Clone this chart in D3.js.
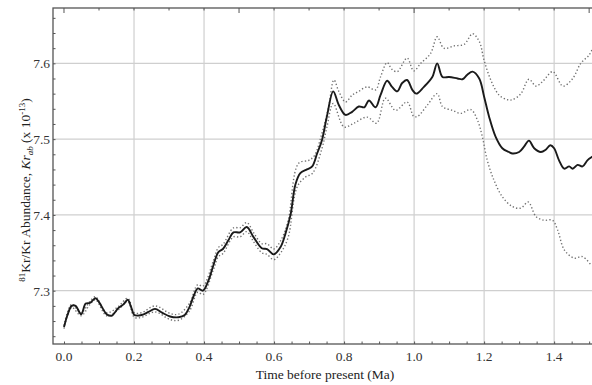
<!DOCTYPE html>
<html>
<head>
<meta charset="utf-8">
<script src="https://cdn.jsdelivr.net/npm/d3@7"></script>
<style>
  html, body { margin: 0; padding: 0; background: #fff; }
  svg { display: block; }
</style>
</head>
<body>
<svg id="chart" width="592" height="385"></svg>
<script>
// ---- Data ----
const timeMain = [0.000,0.010,0.022,0.033,0.049,0.062,0.074,0.090,0.100,0.122,0.136,0.155,0.170,0.182,0.192,0.201,0.222,0.241,0.260,0.280,0.303,0.327,0.345,0.358,0.372,0.382,0.397,0.413,0.427,0.441,0.454,0.470,0.484,0.503,0.522,0.541,0.565,0.580,0.599,0.619,0.633,0.647,0.661,0.675,0.694,0.709,0.723,0.737,0.751,0.769,0.785,0.804,0.823,0.842,0.858,0.871,0.890,0.904,0.923,0.937,0.952,0.966,0.980,0.995,1.006,1.028,1.052,1.066,1.081,1.100,1.124,1.138,1.152,1.167,1.186,1.200,1.214,1.233,1.252,1.271,1.281,1.300,1.314,1.328,1.343,1.362,1.376,1.389,1.400,1.414,1.429,1.443,1.453,1.467,1.481,1.495,1.510];
const krMain = [7.252,7.268,7.280,7.280,7.269,7.283,7.284,7.290,7.285,7.269,7.267,7.277,7.282,7.288,7.278,7.268,7.268,7.272,7.276,7.271,7.266,7.265,7.268,7.278,7.295,7.303,7.300,7.314,7.334,7.351,7.355,7.367,7.377,7.377,7.384,7.371,7.356,7.355,7.348,7.358,7.376,7.400,7.440,7.455,7.460,7.464,7.481,7.499,7.530,7.563,7.545,7.532,7.536,7.543,7.542,7.551,7.542,7.558,7.577,7.569,7.563,7.574,7.578,7.565,7.560,7.569,7.582,7.600,7.582,7.582,7.580,7.579,7.585,7.589,7.580,7.556,7.530,7.503,7.488,7.483,7.481,7.483,7.490,7.498,7.488,7.483,7.486,7.492,7.488,7.472,7.461,7.464,7.461,7.466,7.464,7.472,7.477];

const timeUpper = [0.000,0.022,0.049,0.074,0.090,0.122,0.155,0.182,0.201,0.222,0.260,0.303,0.327,0.358,0.382,0.397,0.427,0.441,0.454,0.484,0.503,0.522,0.541,0.565,0.580,0.599,0.619,0.640,0.670,0.699,0.715,0.737,0.756,0.771,0.785,0.804,0.823,0.842,0.866,0.890,0.904,0.923,0.937,0.952,0.980,0.999,1.019,1.047,1.066,1.085,1.114,1.143,1.167,1.186,1.200,1.219,1.243,1.267,1.281,1.305,1.328,1.348,1.367,1.396,1.425,1.453,1.476,1.500,1.510];
const krUpper = [7.254,7.282,7.271,7.286,7.292,7.271,7.279,7.290,7.271,7.271,7.280,7.270,7.269,7.283,7.308,7.306,7.340,7.357,7.361,7.383,7.383,7.390,7.377,7.362,7.362,7.355,7.366,7.392,7.468,7.472,7.478,7.508,7.543,7.578,7.563,7.549,7.558,7.563,7.569,7.565,7.582,7.601,7.592,7.589,7.607,7.590,7.600,7.613,7.635,7.620,7.623,7.625,7.639,7.629,7.604,7.578,7.558,7.552,7.552,7.560,7.579,7.570,7.576,7.589,7.570,7.580,7.600,7.611,7.620];

const timeLower = [0.000,0.022,0.049,0.074,0.090,0.122,0.155,0.182,0.201,0.222,0.260,0.303,0.327,0.358,0.382,0.397,0.427,0.441,0.454,0.484,0.503,0.522,0.541,0.565,0.580,0.599,0.619,0.640,0.666,0.690,0.710,0.737,0.751,0.769,0.800,0.828,0.866,0.893,0.918,0.947,0.980,0.999,1.010,1.038,1.066,1.081,1.109,1.133,1.162,1.181,1.195,1.209,1.228,1.252,1.281,1.305,1.326,1.348,1.371,1.395,1.410,1.429,1.457,1.481,1.505];
const krLower = [7.250,7.278,7.267,7.282,7.288,7.267,7.275,7.286,7.265,7.265,7.272,7.262,7.261,7.273,7.298,7.295,7.328,7.345,7.349,7.371,7.371,7.378,7.365,7.350,7.348,7.341,7.350,7.370,7.437,7.450,7.455,7.488,7.516,7.547,7.516,7.521,7.529,7.521,7.554,7.538,7.549,7.530,7.530,7.545,7.560,7.543,7.538,7.534,7.539,7.525,7.503,7.472,7.446,7.424,7.411,7.409,7.417,7.398,7.393,7.393,7.380,7.354,7.343,7.345,7.334];

const xTickLabels = [0.0, 0.2, 0.4, 0.6, 0.8, 1.0, 1.2, 1.4];
const yTickLabels = [7.3, 7.4, 7.5, 7.6];

// ---- Layout ----
const FONT = "'Liberation Serif', 'Times New Roman', serif";
const svg = d3.select("#chart").attr("font-family", FONT);
const plot = { left: 53, top: 8, right: 600, bottom: 344 };

const x = d3.scaleLinear().domain([-0.0314, 1.531]).range([plot.left, plot.right]);
const y = d3.scaleLinear().domain([7.2297, 7.673]).range([plot.bottom, plot.top]);

svg.append("clipPath").attr("id", "clip")
  .append("rect")
  .attr("x", plot.left).attr("y", plot.top)
  .attr("width", plot.right - plot.left).attr("height", plot.bottom - plot.top);

// Gridlines
const grid = svg.append("g");
grid.selectAll("line.vx").data(xTickLabels.filter(d => d > 0)).join("line")
  .attr("x1", d => x(d)).attr("x2", d => x(d))
  .attr("y1", plot.top).attr("y2", plot.bottom)
  .attr("stroke", "#cfcfcf").attr("stroke-width", 1.2);
grid.selectAll("line.hy").data(yTickLabels).join("line")
  .attr("x1", plot.left).attr("x2", plot.right)
  .attr("y1", d => y(d)).attr("y2", d => y(d))
  .attr("stroke", "#cfcfcf").attr("stroke-width", 1.2);

// Lines
const lineGen = d3.line()
  .x(d => x(d[0])).y(d => y(d[1]))
  .curve(d3.curveCatmullRom.alpha(0.5));

const zip = (a, b) => a.map((t, i) => [t, b[i]]);
const g = svg.append("g").attr("clip-path", "url(#clip)");

g.append("path").datum(zip(timeUpper, krUpper))
  .attr("d", lineGen).attr("fill", "none")
  .attr("stroke", "#707070").attr("stroke-width", 1.4)
  .attr("stroke-dasharray", "1.3,2.2");
g.append("path").datum(zip(timeLower, krLower))
  .attr("d", lineGen).attr("fill", "none")
  .attr("stroke", "#707070").attr("stroke-width", 1.4)
  .attr("stroke-dasharray", "1.3,2.2");
g.append("path").datum(zip(timeMain, krMain))
  .attr("d", lineGen).attr("fill", "none")
  .attr("stroke", "#1a1a1a").attr("stroke-width", 1.9)
  .attr("stroke-linejoin", "round");

// Frame
const frameColor = "#555";
svg.append("rect")
  .attr("x", plot.left).attr("y", plot.top)
  .attr("width", plot.right - plot.left).attr("height", plot.bottom - plot.top)
  .attr("fill", "none").attr("stroke", frameColor).attr("stroke-width", 1.3);

// Bottom axis (ticks inward, every 0.05)
const xAxisB = d3.axisBottom(x)
  .tickValues(d3.range(0, 1.5001, 0.05))
  .tickSize(-2.5).tickFormat("");
svg.append("g").attr("transform", `translate(0,${plot.bottom})`).call(xAxisB)
  .call(s => s.select(".domain").remove())
  .call(s => s.selectAll("line").attr("stroke", frameColor).attr("stroke-width", 1));

// Top axis (ticks inward, every 0.1, longer at multiples of 0.5)
const topTicks = d3.range(0, 1.5001, 0.1);
svg.append("g").selectAll("line").data(topTicks).join("line")
  .attr("x1", d => x(d)).attr("x2", d => x(d))
  .attr("y1", plot.top)
  .attr("y2", d => plot.top + (Math.abs(d * 2 - Math.round(d * 2)) < 1e-6 ? 5 : 2.5))
  .attr("stroke", frameColor).attr("stroke-width", 1);

// Left axis minor ticks every 0.02
const yAxisL = d3.axisLeft(y)
  .tickValues(d3.range(7.24, 7.671, 0.02))
  .tickSize(-2.5).tickFormat("");
svg.append("g").attr("transform", `translate(${plot.left},0)`).call(yAxisL)
  .call(s => s.select(".domain").remove())
  .call(s => s.selectAll("line").attr("stroke", frameColor).attr("stroke-width", 1));

// Tick labels
svg.append("g").selectAll("text").data(xTickLabels).join("text")
  .attr("x", d => x(d)).attr("y", plot.bottom + 17)
  .attr("text-anchor", "middle").attr("font-size", 13.5).attr("fill", "#333")
  .attr("font-family", FONT)
  .text(d => d3.format(".1f")(d));

svg.append("g").selectAll("text").data(yTickLabels).join("text")
  .attr("x", plot.left - 3).attr("y", d => y(d) + 5)
  .attr("text-anchor", "end").attr("font-size", 13.5).attr("fill", "#333")
  .attr("font-family", FONT)
  .text(d => d3.format(".1f")(d));

// Axis titles
svg.append("text")
  .attr("x", 325).attr("y", 379)
  .attr("text-anchor", "middle").attr("font-size", 13.5).attr("fill", "#222")
  .attr("font-family", FONT)
  .text("Time before present (Ma)");

const yl = svg.append("text")
  .attr("transform", "translate(30,190) rotate(-90)")
  .attr("text-anchor", "middle").attr("font-size", 13.5).attr("fill", "#222")
  .attr("font-family", FONT);
yl.append("tspan").attr("font-size", 9).attr("dy", -5).text("81");
yl.append("tspan").attr("dy", 5).text("Kr/Kr Abundance, ");
yl.append("tspan").attr("font-style", "italic").text("Kr");
yl.append("tspan").attr("font-style", "italic").attr("font-size", 9).attr("dy", 3).text("ab");
yl.append("tspan").attr("dy", -3).text(" (x 10");
yl.append("tspan").attr("font-size", 9).attr("dy", -5).text("-13");
yl.append("tspan").attr("dy", 5).text(")");
</script>
</body>
</html>
